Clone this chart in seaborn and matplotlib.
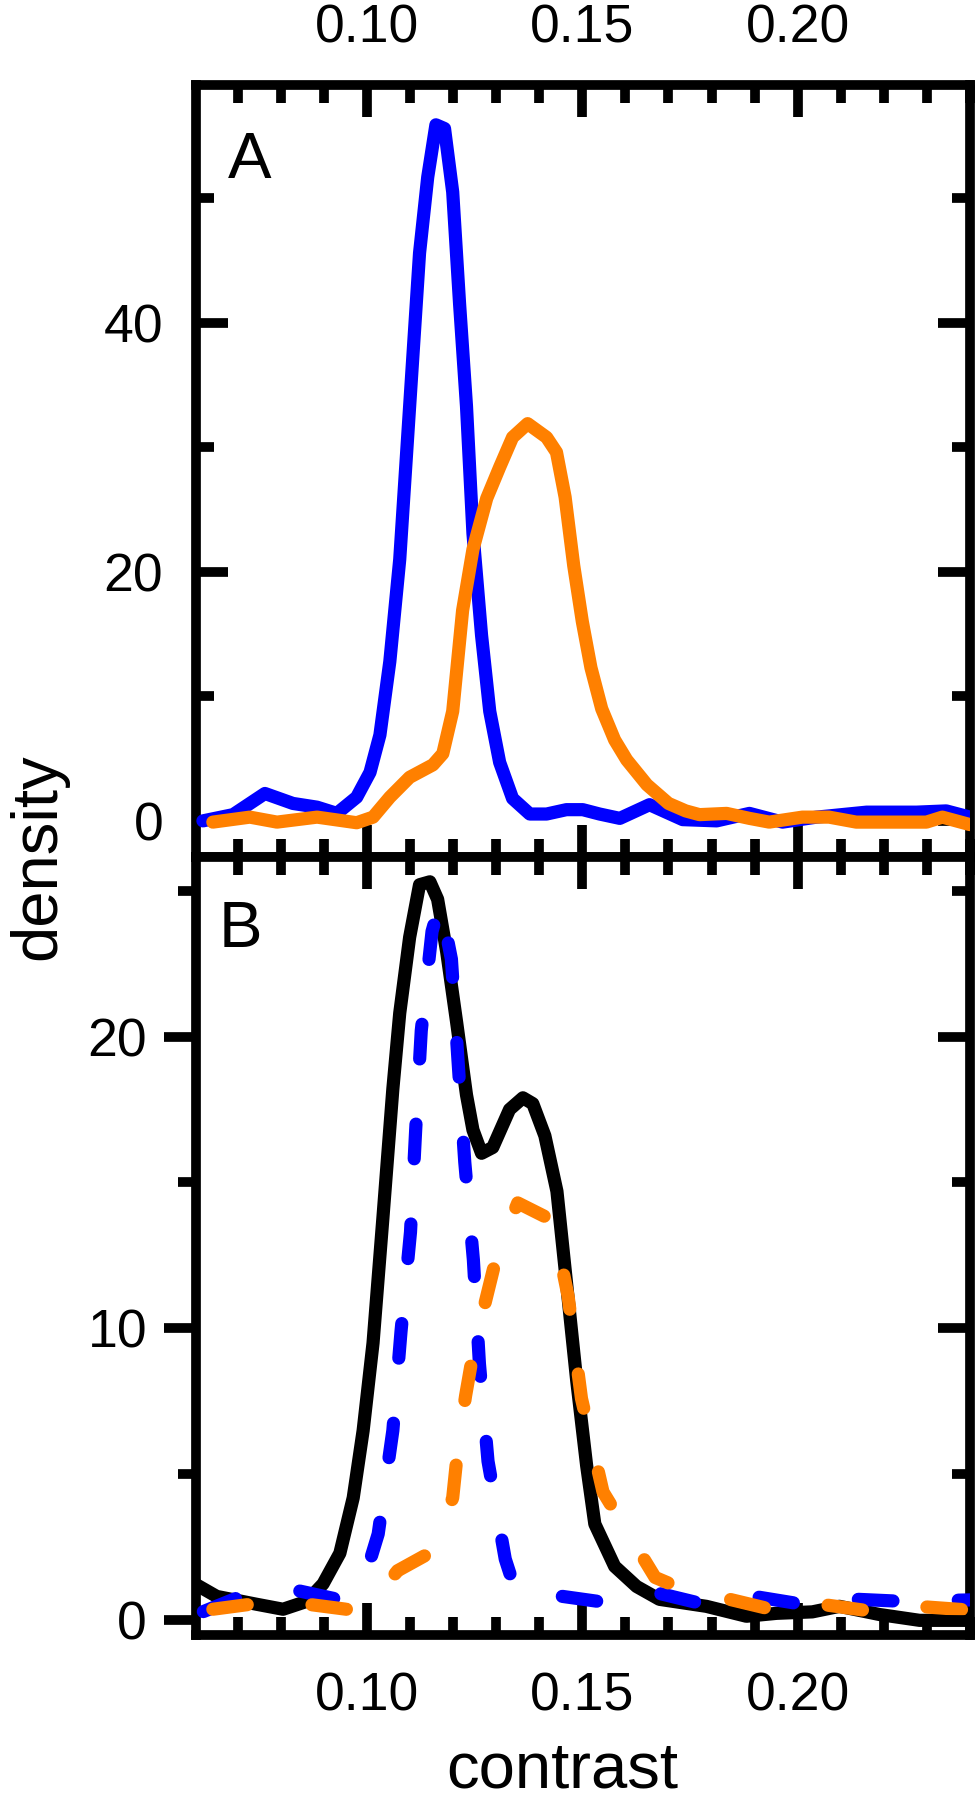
import matplotlib
matplotlib.use("Agg")
import pandas as pd
import matplotlib.pyplot as plt
from matplotlib.ticker import MultipleLocator, FormatStrFormatter
import seaborn as sns

# panel A - two separate density curves
a_blue_x = [0.0619, 0.0689, 0.0763, 0.0828, 0.0884, 0.0930, 0.0976, 0.1007, 0.1030,
            0.1053, 0.1076, 0.1099, 0.1122, 0.1141, 0.1160, 0.1180, 0.1199, 0.1215,
            0.1231, 0.1246, 0.1266, 0.1285, 0.1308, 0.1338, 0.1378, 0.1417, 0.1463,
            0.1501, 0.1540, 0.1587, 0.1656, 0.1733, 0.1812, 0.1888, 0.1965, 0.2044,
            0.2160, 0.2276, 0.2345, 0.2400]
a_blue_y = [0.0, 0.5, 2.2, 1.4, 1.1, 0.6, 1.9, 3.9, 6.9,
            12.8, 21.0, 33.3, 45.6, 51.7, 55.9, 55.6, 50.5, 41.5,
            33.3, 23.1, 14.9, 8.8, 4.7, 1.8, 0.55, 0.55, 0.9,
            0.9, 0.55, 0.2, 1.3, 0.1, 0.0, 0.6, -0.1, 0.3,
            0.7, 0.7, 0.8, 0.3]

a_orange_x = [0.0642, 0.0728, 0.0791, 0.0884, 0.0976, 0.1014, 0.1053, 0.1099, 0.1153,
              0.1176, 0.1199, 0.1222, 0.1246, 0.1278, 0.1308, 0.1338, 0.1373, 0.1417,
              0.1440, 0.1460, 0.1480, 0.1500, 0.1520, 0.1545, 0.1575, 0.1603, 0.1650,
              0.1700, 0.1740, 0.1772, 0.1835, 0.1888, 0.1934, 0.2011, 0.2073, 0.2136,
              0.2299, 0.2336, 0.2400]
a_orange_y = [-0.1, 0.3, -0.1, 0.3, -0.15, 0.3, 1.9, 3.5, 4.5,
              5.4, 8.8, 16.9, 21.8, 25.9, 28.4, 30.8, 31.9, 30.8,
              29.6, 26.0, 20.5, 16.0, 12.3, 9.0, 6.5, 4.9, 2.9,
              1.4, 0.8, 0.5, 0.6, 0.2, -0.1, 0.3, 0.3, -0.1,
              -0.1, 0.3, -0.3]

# panel B - mixture (solid) and its two components (dashed)
b_black_x = [0.0600, 0.0651, 0.0744, 0.0805, 0.0860, 0.0898, 0.0937, 0.0968, 0.0991,
             0.1014, 0.1037, 0.1060, 0.1076, 0.1099, 0.1122, 0.1146, 0.1164, 0.1185,
             0.1208, 0.1231, 0.1246, 0.1266, 0.1292, 0.1331, 0.1362, 0.1385, 0.1413,
             0.1441, 0.1463, 0.1487, 0.1510, 0.1529, 0.1575, 0.1626, 0.1679, 0.1788,
             0.1881, 0.1951, 0.2034, 0.2097, 0.2190, 0.2283, 0.2400]
b_black_y = [1.25, 0.82, 0.55, 0.38, 0.65, 1.25, 2.3, 4.2, 6.5,
             9.5, 13.8, 18.2, 20.8, 23.4, 25.2, 25.3, 24.7, 22.9,
             20.5, 18.0, 16.8, 16.0, 16.2, 17.5, 17.9, 17.7, 16.6,
             14.7, 11.6, 8.2, 5.3, 3.3, 1.85, 1.16, 0.72, 0.48,
             0.14, 0.24, 0.29, 0.48, 0.2, 0.0, 0.0]

b_blue_x = [0.0620, 0.0704, 0.0826, 0.0923, 0.0965, 0.1000, 0.1026, 0.1060, 0.1079,
            0.1101, 0.1113, 0.1126, 0.1151, 0.1170, 0.1196, 0.1211, 0.1227, 0.1247,
            0.1261, 0.1281, 0.1321, 0.1345, 0.1454, 0.1551, 0.1671, 0.1783, 0.1907,
            0.2011, 0.2140, 0.2244, 0.2400]
b_blue_y = [0.3, 0.8, 1.06, 0.75, 0.75, 1.7, 2.96, 6.5, 9.9,
            13.3, 16.8, 20.2, 23.6, 24.6, 22.65, 19.25, 15.7, 12.35,
            8.8, 5.45, 2.1, 1.0, 0.82, 0.62, 0.95, 0.55, 0.8,
            0.55, 0.72, 0.65, 0.7]

b_orange_x = [0.0642, 0.0795, 0.0952, 0.1000, 0.1071, 0.1157, 0.1199, 0.1211, 0.1229,
              0.1248, 0.1278, 0.1303, 0.1350, 0.1431, 0.1467, 0.1498, 0.1548, 0.1669,
              0.1760, 0.1842, 0.1955, 0.2030, 0.2188, 0.2260, 0.2400]
b_orange_y = [0.38, 0.68, 0.38, 0.4, 1.7, 2.4, 4.2, 5.9, 7.7,
              9.3, 11.1, 12.6, 14.3, 13.7, 11.1, 7.6, 4.4, 1.47,
              0.9, 0.72, 0.32, 0.6, 0.28, 0.5, 0.35]

BLUE = "#0000FF"
ORANGE = "#FF8000"
LW = 9.5
DASH = (0, (25.0, 47.0))
TICK_FS = 38.5
LABEL_FS = 47
FRAME_W = 7.0

sns.set_style("white")
plt.rcParams["font.family"] = ["Liberation Sans", "DejaVu Sans"]
plt.rcParams["lines.scale_dashes"] = False
for key in ["text.color", "axes.labelcolor", "xtick.color", "ytick.color", "axes.edgecolor"]:
    plt.rcParams[key] = "black"


def draw(ax, xs, ys, color, dashed=False):
    df = pd.DataFrame({"contrast": xs, "density": ys})
    style = DASH if dashed else "-"
    sns.lineplot(data=df, x="contrast", y="density", ax=ax, color=color,
                 linewidth=LW, linestyle=style, dash_capstyle="round",
                 solid_capstyle="round", solid_joinstyle="round", zorder=3)


def frame(ax, ymajor, yminor, ylim, ydir, ypad):
    ax.set_xlim(0.0604, 0.2400)
    ax.set_ylim(*ylim)
    ax.set(xlabel="", ylabel="")
    ax.xaxis.set_major_locator(MultipleLocator(0.05))
    ax.xaxis.set_minor_locator(MultipleLocator(0.01))
    ax.xaxis.set_major_formatter(FormatStrFormatter("%.2f"))
    ax.yaxis.set_major_locator(MultipleLocator(ymajor))
    ax.yaxis.set_minor_locator(MultipleLocator(yminor))
    for s in ax.spines.values():
        s.set_linewidth(FRAME_W)
        s.set_color("black")
    ax.tick_params(axis="x", which="both", direction="in", top=True, bottom=True,
                   width=FRAME_W, labelsize=TICK_FS)
    ax.tick_params(axis="x", which="major", length=23)
    ax.tick_params(axis="x", which="minor", length=13)
    ax.tick_params(axis="y", which="both", direction=ydir, left=True,
                   width=FRAME_W, labelsize=TICK_FS, pad=ypad)
    ax.tick_params(axis="y", which="major", length=23)
    ax.tick_params(axis="y", which="minor", length=13)


fig = plt.figure(figsize=(9.75, 18), dpi=100)
ax1 = fig.add_axes([0.2015, 0.5239, 0.7933, 0.4289])
ax2 = fig.add_axes([0.2015, 0.0917, 0.7933, 0.4322])

draw(ax1, a_blue_x, a_blue_y, BLUE)
draw(ax1, a_orange_x, a_orange_y, ORANGE)
frame(ax1, 20, 10, (-2.9, 59.1), "in", 24)
ax1.tick_params(axis="y", which="both", right=True)
ax1.tick_params(axis="x", labeltop=True, labelbottom=False, pad=23)

draw(ax2, b_black_x, b_black_y, "black")
draw(ax2, b_blue_x, b_blue_y, BLUE, dashed=True)
draw(ax2, b_orange_x, b_orange_y, ORANGE, dashed=True)
frame(ax2, 10, 5, (-0.5, 26.15), "out", 12.6)
ax2.tick_params(axis="x", labeltop=False, labelbottom=True, pad=26)
ax2.tick_params(axis="y", which="both", right=False)

# right side of panel B has inward ticks while the left side points out
twin = ax2.twinx()
twin.set_ylim(ax2.get_ylim())
twin.yaxis.set_major_locator(MultipleLocator(10))
twin.yaxis.set_minor_locator(MultipleLocator(5))
twin.tick_params(axis="y", which="both", direction="in", right=True,
                 labelright=False, width=FRAME_W)
twin.tick_params(axis="y", which="major", length=23)
twin.tick_params(axis="y", which="minor", length=13)
for s in twin.spines.values():
    s.set_visible(False)

fig.text(228 / 975, 1 - 178 / 1800, "A", fontsize=LABEL_FS, ha="left", va="baseline")
fig.text(219 / 975, 1 - 947 / 1800, "B", fontsize=LABEL_FS, ha="left", va="baseline")
fig.text(8 / 975, 1 - 857 / 1800, "density", fontsize=LABEL_FS, rotation=90,
         ha="left", va="center")
fig.text(562 / 975, 1 - 1788 / 1800, "contrast", fontsize=LABEL_FS,
         ha="center", va="baseline")

fig.savefig("out.png", dpi=100, facecolor="white")
